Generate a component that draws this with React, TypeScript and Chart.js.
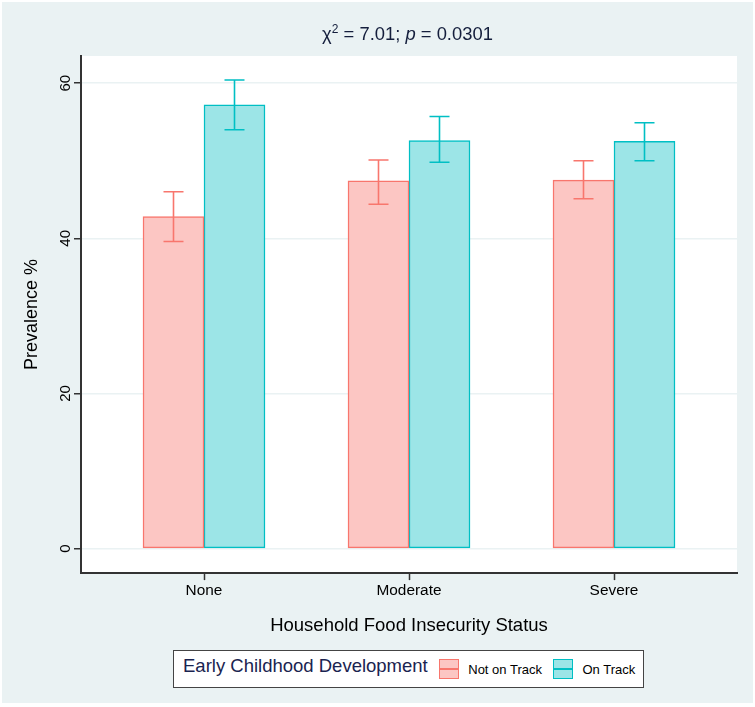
import { useEffect, useRef } from "react";
import { Chart, registerables } from "chart.js";

Chart.register(...registerables);

// data
const categories = ["None", "Moderate", "Severe"];
const seriesNames = ["Not on Track", "On Track"];
const notOnTrack = [42.8, 47.4, 47.5];
const onTrack = [57.2, 52.6, 52.5];
const notOnTrackLower = [39.6, 44.4, 45.1];
const notOnTrackUpper = [46.0, 50.1, 50.0];
const onTrackLower = [54.0, 49.8, 50.0];
const onTrackUpper = [60.4, 55.7, 54.9];
const yTicks = [0, 20, 40, 60];

const FONT = '"Liberation Sans", Arial, sans-serif';
const BG = "#EAF2F3";
const lineColors = ["#F8766D", "#00BFC4"];
const fillColors = ["#FCC6C3", "#9CE5E7"];

const lowers = [notOnTrackLower, onTrackLower];
const uppers = [notOnTrackUpper, onTrackUpper];

// background + white plot region
const backgroundPlugin = {
  id: "bg",
  beforeDraw(chart: any) {
    const { ctx, chartArea, width, height } = chart;
    ctx.save();
    ctx.fillStyle = "#ffffff";
    ctx.fillRect(0, 0, width, height);
    ctx.fillStyle = BG;
    ctx.fillRect(2, 2, width - 4, height - 6);
    ctx.fillStyle = "#ffffff";
    ctx.fillRect(chartArea.left, chartArea.top, chartArea.right - chartArea.left, chartArea.bottom - chartArea.top);
    ctx.restore();
  },
};

// confidence interval whiskers
const errorBarPlugin = {
  id: "errorBars",
  afterDatasetsDraw(chart: any) {
    const { ctx } = chart;
    const y = chart.scales.y;
    ctx.save();
    chart.data.datasets.forEach((ds: any, i: number) => {
      const meta = chart.getDatasetMeta(i);
      ctx.strokeStyle = lineColors[i];
      ctx.lineWidth = 1.6;
      meta.data.forEach((bar: any, j: number) => {
        const lo = y.getPixelForValue(lowers[i][j]);
        const hi = y.getPixelForValue(uppers[i][j]);
        const cap = 10;
        ctx.beginPath();
        ctx.moveTo(bar.x, lo);
        ctx.lineTo(bar.x, hi);
        ctx.moveTo(bar.x - cap, lo);
        ctx.lineTo(bar.x + cap, lo);
        ctx.moveTo(bar.x - cap, hi);
        ctx.lineTo(bar.x + cap, hi);
        ctx.stroke();
      });
    });
    ctx.restore();
  },
};

// Stata-style vertical y tick labels
const yLabelPlugin = {
  id: "yLabels",
  afterDraw(chart: any) {
    const { ctx } = chart;
    const y = chart.scales.y;
    ctx.save();
    ctx.fillStyle = "#000";
    ctx.font = `15px ${FONT}`;
    ctx.textAlign = "center";
    ctx.textBaseline = "middle";
    yTicks.forEach((v) => {
      const py = y.getPixelForValue(v);
      ctx.save();
      ctx.translate(66, py);
      ctx.rotate(-Math.PI / 2);
      ctx.fillText(String(v), 0, 0);
      ctx.restore();
    });
    ctx.restore();
  },
};

export default function App() {
  const canvasRef = useRef<HTMLCanvasElement | null>(null);

  useEffect(() => {
    if (!canvasRef.current) return;
    const ctx = canvasRef.current.getContext("2d");
    if (!ctx) return;

    const chart = new Chart(ctx, {
      type: "bar",
      data: {
        datasets: [notOnTrack, onTrack].map((vals, i) => ({
          label: seriesNames[i],
          data: vals.map((v, j) => ({ x: j, y: v })),
          backgroundColor: fillColors[i],
          borderColor: lineColors[i],
          borderWidth: 1.5,
          borderSkipped: false,
          barThickness: 61,
        })),
      },
      options: {
        animation: false,
        responsive: false,
        layout: { padding: { top: 56, right: 18, left: 0, bottom: 70.4 } },
        plugins: {
          legend: { display: false },
          tooltip: { enabled: false },
        },
        scales: {
          x: {
            type: "linear",
            min: -0.6,
            max: 2.6,
            offset: false,
            afterBuildTicks: (axis: any) => {
              axis.ticks = categories.map((_, i) => ({ value: i }));
            },
            ticks: {
              callback: (v: any) => categories[v] ?? "",
              color: "#000",
              font: { family: FONT, size: 15.4 },
              padding: 1,
              maxRotation: 0,
            },
            grid: { offset: false, drawOnChartArea: false, tickLength: 7, tickColor: "#333", tickWidth: 1.5 },
            border: { color: "#333", width: 2 },
            title: {
              display: true,
              text: "Household Food Insecurity Status",
              color: "#000",
              font: { family: FONT, size: 18.5 },
              padding: { top: 13.8, bottom: 0 },
            },
          },
          y: {
            min: -3.15,
            max: 63.5,
            afterBuildTicks: (axis: any) => {
              axis.ticks = yTicks.map((v) => ({ value: v }));
            },
            ticks: { display: false },
            grid: { color: BG, lineWidth: 1.5, tickLength: 7, tickColor: "#333", tickWidth: 1.5 },
            border: { color: "#333", width: 2 },
            title: {
              display: true,
              text: "Prevalence %",
              color: "#000",
              font: { family: FONT, size: 18 },
              padding: { top: 21.4, bottom: 31 },
            },
          },
        },
      },
      plugins: [backgroundPlugin, errorBarPlugin, yLabelPlugin],
    });

    return () => chart.destroy();
  }, []);

  return (
    <div style={{ position: "fixed", left: 0, top: 0, width: 755, height: 707, fontFamily: FONT }}>
      <canvas ref={canvasRef} width={755} height={707} style={{ display: "block" }} />
      <div
        style={{
          position: "absolute",
          left: 257.5,
          width: 300,
          top: 23.3,
          lineHeight: "22px",
          fontSize: 18.4,
          textAlign: "center",
          color: "#141e3c",
          whiteSpace: "nowrap",
        }}
      >
        χ<span style={{ fontSize: 12, position: "relative", top: -7.5 }}>2</span> = 7.01; <i>p</i> = 0.0301
      </div>
      <div
        style={{
          position: "absolute",
          left: 173,
          top: 650,
          height: 36,
          border: "1.5px solid #444",
          background: "#fff",
          display: "flex",
          alignItems: "center",
          paddingLeft: 9,
          paddingRight: 8,
          whiteSpace: "nowrap",
        }}
      >
        <span style={{ fontSize: 18.5, color: "#1a2350", position: "relative", top: -3, marginRight: 11 }}>
          Early Childhood Development
        </span>
        {seriesNames.map((name, i) => (
          <span key={name} style={{ display: "flex", alignItems: "center", marginLeft: i ? 11 : 0 }}>
            <span
              style={{
                width: 18,
                height: 18,
                border: `1.5px solid ${lineColors[i]}`,
                background: fillColors[i],
                position: "relative",
                display: "inline-block",
              }}
            >
              <span
                style={{
                  position: "absolute",
                  left: 0,
                  right: 0,
                  top: 8,
                  height: 1.5,
                  background: lineColors[i],
                }}
              />
            </span>
            <span style={{ fontSize: 13, color: "#000", marginLeft: 9.5 }}>{name}</span>
          </span>
        ))}
      </div>
    </div>
  );
}
